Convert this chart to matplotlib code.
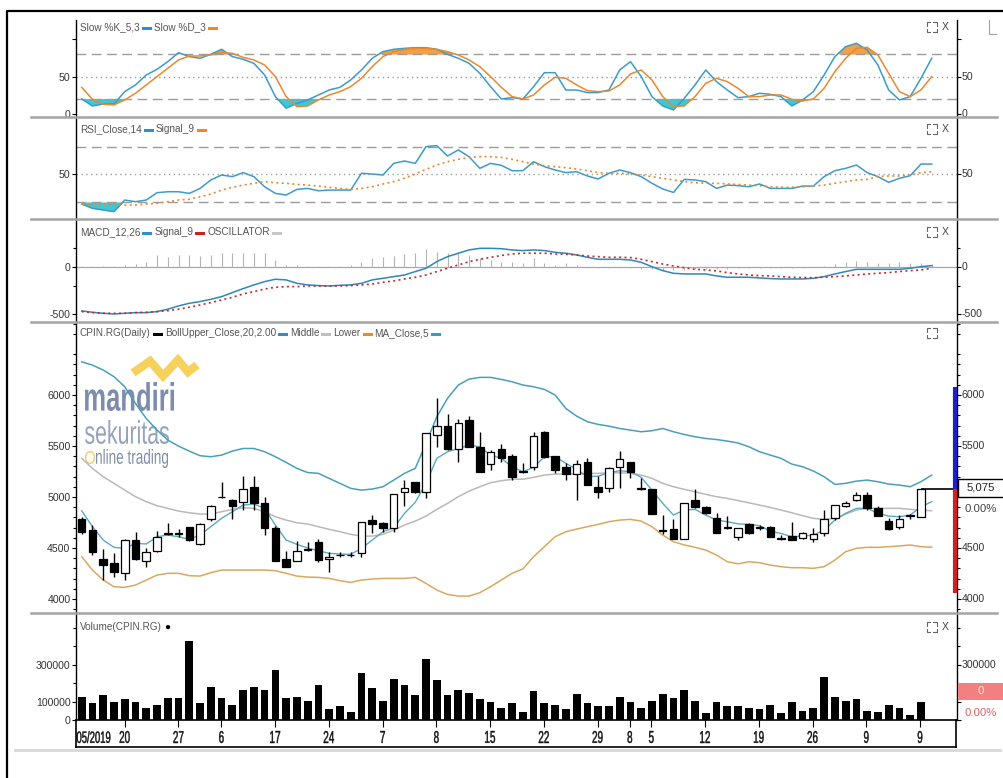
import numpy as np
import matplotlib.pyplot as plt
from matplotlib import font_manager
from matplotlib.textpath import TextPath
from matplotlib.patches import PathPatch, Rectangle
from matplotlib.font_manager import FontProperties
from matplotlib.transforms import Affine2D
from matplotlib.lines import Line2D

names = {f.name for f in font_manager.fontManager.ttflist}
narrow = 'Liberation Sans Narrow' if 'Liberation Sans Narrow' in names else 'Liberation Sans'
plt.rcParams['font.family'] = [narrow, 'DejaVu Sans']
small = 8 if narrow == 'Liberation Sans Narrow' else 7.2

# ---- data ----
tick_pos = [4, 9, 13, 18, 23, 28, 33, 38, 43, 48, 51, 53, 58, 63, 68, 73, 78]
tick_lab = ['20', '27', '6', '17', '24', '7', '8', '15', '22', '29', '8', '5', '12', '19', '26', '9', '9']
month_label = '05/2019'

opens = [4784, 4676, 4389, 4350, 4252, 4578, 4376, 4470, 4640, 4650, 4703, 4536, 4781, 5000, 4970, 4954, 5095, 4944, 4699, 4392,
         4376, 4485, 4562, 4389, 4428, 4434, 4448, 4774, 4742, 4699, 5052, 5144, 5052, 5607, 5695, 5470, 5754, 5493, 5323, 5470,
         5401, 5250, 5291, 5633, 5401, 5297, 5225, 5346, 5094, 5091, 5297, 5346, 5090, 5078, 4675, 4686, 4588, 4970, 4905, 4797,
         4705, 4611, 4732, 4705, 4709, 4598, 4617, 4595, 4591, 4643, 4791, 4915, 4970, 5019, 4889, 4764, 4709, 4812, 4807]
highs = [4800, 4725, 4487, 4448, 4591, 4660, 4497, 4670, 4742, 4690, 4710, 4742, 4921, 5150, 4985, 5205, 5205, 5003, 4715, 4470,
         4565, 4560, 4585, 4457, 4460, 4457, 4758, 4823, 4760, 5026, 5163, 5150, 5630, 5967, 5813, 5767, 5793, 5637, 5460, 5520,
         5420, 5330, 5640, 5650, 5401, 5330, 5360, 5380, 5205, 5297, 5450, 5346, 5183, 5078, 4823, 4784, 4944, 5075, 4915, 4840,
         4817, 4699, 4750, 4730, 4715, 4630, 4758, 4660, 4693, 4869, 4921, 4960, 5052, 5052, 4912, 4790, 4820, 4830, 5078]
lows = [4640, 4431, 4187, 4219, 4187, 4379, 4317, 4460, 4630, 4610, 4565, 4530, 4765, 4995, 4787, 4870, 4873, 4628, 4376, 4317,
        4370, 4470, 4360, 4268, 4415, 4415, 4415, 4643, 4660, 4660, 4911, 5035, 4987, 5493, 5460, 5348, 5493, 5248, 5265, 5348,
        5170, 5235, 5265, 5380, 5232, 5170, 4970, 5117, 4993, 5052, 5085, 5183, 5068, 4833, 4640, 4588, 4588, 4890, 4835, 4643,
        4690, 4582, 4635, 4680, 4605, 4580, 4578, 4585, 4562, 4620, 4775, 4905, 4960, 4870, 4817, 4675, 4690, 4780, 4807]
closes = [4653, 4464, 4333, 4262, 4578, 4395, 4457, 4611, 4645, 4640, 4578, 4732, 4908, 5005, 4915, 5075, 4938, 4693, 4376, 4317,
          4470, 4495, 4383, 4415, 4434, 4428, 4758, 4732, 4699, 5026, 5085, 5052, 5630, 5695, 5470, 5728, 5493, 5248, 5437, 5379,
          5199, 5260, 5600, 5395, 5264, 5225, 5320, 5117, 5046, 5281, 5372, 5248, 5080, 4833, 4665, 4588, 4944, 4899, 4846, 4643,
          4700, 4699, 4643, 4700, 4605, 4593, 4578, 4643, 4634, 4781, 4921, 4944, 5019, 4889, 4817, 4686, 4784, 4820, 5075]

volume_k = [127, 91, 135, 98, 113, 98, 67, 80, 120, 120, 429, 91, 180, 118, 80, 165, 180, 165, 271, 118,
            127, 105, 189, 58, 75, 45, 256, 173, 105, 225, 189, 135, 331, 218, 135, 165, 144, 113, 98, 67,
            91, 44, 156, 91, 80, 58, 142, 91, 75, 75, 127, 98, 67, 105, 142, 120, 165, 105, 36, 98,
            75, 75, 67, 58, 80, 36, 98, 51, 67, 233, 127, 105, 113, 51, 44, 80, 67, 29, 98]

boll_upper = [6326, 6293, 6245, 6180, 6081, 5917, 5770, 5656, 5558, 5499, 5450, 5405, 5395, 5411, 5450, 5476, 5476, 5444, 5395, 5339,
              5281, 5240, 5232, 5183, 5134, 5085, 5068, 5078, 5101, 5166, 5232, 5281, 5526, 5787, 5967, 6098, 6156, 6173, 6173, 6153,
              6130, 6098, 6081, 6055, 6000, 5868, 5793, 5738, 5712, 5695, 5672, 5656, 5640, 5650, 5672, 5640, 5613, 5591, 5574, 5564,
              5548, 5530, 5493, 5444, 5411, 5379, 5323, 5297, 5255, 5199, 5124, 5134, 5156, 5166, 5150, 5127, 5117, 5101, 5150, 5215]
boll_mid = [5379, 5281, 5199, 5134, 5068, 5003, 4954, 4915, 4889, 4862, 4846, 4833, 4833, 4856, 4879, 4895, 4889, 4856, 4807, 4774,
            4748, 4735, 4709, 4683, 4660, 4634, 4617, 4617, 4634, 4676, 4725, 4764, 4813, 4879, 4938, 5003, 5058, 5101, 5140, 5160,
            5173, 5175, 5193, 5215, 5225, 5225, 5225, 5232, 5232, 5238, 5238, 5232, 5215, 5183, 5134, 5101, 5075, 5052, 5026, 5003,
            4987, 4965, 4944, 4921, 4898, 4872, 4846, 4817, 4791, 4781, 4791, 4833, 4872, 4889, 4889, 4889, 4889, 4879, 4872, 4866]
boll_lower = [4415, 4284, 4186, 4121, 4114, 4137, 4186, 4235, 4252, 4252, 4229, 4225, 4258, 4284, 4284, 4284, 4284, 4284, 4278, 4252,
              4225, 4215, 4212, 4202, 4180, 4163, 4186, 4196, 4202, 4202, 4202, 4212, 4153, 4088, 4045, 4029, 4029, 4062, 4121, 4186,
              4252, 4295, 4415, 4513, 4611, 4660, 4686, 4709, 4732, 4758, 4774, 4781, 4764, 4709, 4627, 4562, 4530, 4507, 4480, 4431,
              4366, 4345, 4366, 4356, 4333, 4317, 4307, 4307, 4301, 4317, 4382, 4464, 4497, 4507, 4507, 4513, 4520, 4530, 4513, 4508]
ma5 = [4865, 4709, 4578, 4507, 4497, 4546, 4540, 4611, 4627, 4611, 4585, 4627, 4709, 4791, 4856, 4921, 4931, 4889, 4725, 4578,
       4536, 4500, 4474, 4448, 4441, 4438, 4497, 4578, 4660, 4699, 4840, 4948, 5134, 5379, 5444, 5476, 5509, 5493, 5411, 5379,
       5297, 5248, 5291, 5395, 5395, 5330, 5271, 5199, 5205, 5238, 5258, 5248, 5193, 5068, 4938, 4823, 4872, 4879, 4823, 4774,
       4758, 4737, 4732, 4719, 4666, 4643, 4611, 4617, 4627, 4676, 4774, 4840, 4889, 4889, 4840, 4813, 4807, 4823, 4905, 4954]

slow_k = [20.0, 10.6, 13.3, 13.3, 29.9, 38.9, 52.3, 59.9, 70.2, 82.3, 77.0, 74.7, 80.1, 86.8, 77.0, 73.4, 68.0, 52.3, 23.2, 7.5,
          14.2, 18.7, 25.4, 32.1, 35.7, 45.6, 59.0, 74.7, 83.7, 86.8, 88.1, 89.0, 89.0, 86.8, 80.1, 74.7, 68.0, 54.5, 36.6, 20.0,
          21.8, 20.0, 36.6, 55.4, 55.4, 32.1, 32.1, 28.6, 28.6, 32.1, 59.0, 70.2, 50.1, 23.2, 10.6, 5.3, 20.9, 38.9, 59.0, 43.3,
          32.1, 21.8, 23.2, 27.7, 26.3, 23.2, 10.6, 18.7, 29.9, 52.3, 77.0, 90.4, 94.9, 85.9, 65.7, 32.1, 18.7, 23.2, 47.8, 74.7]
slow_d = [35.7, 19.6, 12.9, 12.0, 18.7, 27.7, 38.9, 50.1, 61.3, 72.5, 77.8, 77.8, 79.2, 82.3, 81.4, 76.0, 72.5, 65.7, 50.1, 23.2,
          9.7, 10.6, 18.7, 25.4, 29.9, 36.6, 47.8, 63.5, 77.0, 83.7, 86.8, 88.1, 88.1, 86.8, 83.7, 79.2, 72.5, 63.5, 50.1, 35.7,
          23.2, 20.0, 25.4, 38.9, 49.2, 47.8, 38.9, 31.2, 29.9, 30.8, 38.9, 53.6, 59.0, 45.6, 23.2, 9.7, 10.6, 23.2, 41.1, 47.8,
          43.3, 34.4, 23.2, 23.2, 25.4, 25.4, 19.6, 17.4, 20.0, 34.4, 56.8, 74.7, 88.1, 89.5, 79.2, 54.5, 29.9, 23.2, 32.1, 50.1]

rsi = [28.5, 25.4, 24.2, 23.0, 31.4, 30.2, 31.4, 36.7, 37.4, 37.4, 36.2, 39.8, 45.9, 49.5, 48.3, 51.2, 48.3, 41.0, 36.2, 35.0,
       39.1, 39.8, 38.1, 38.6, 38.6, 38.6, 50.7, 50.2, 49.5, 57.9, 59.6, 57.9, 70.0, 70.7, 63.2, 67.6, 62.7, 54.3, 57.9, 56.5,
       52.6, 52.6, 59.1, 55.5, 53.1, 51.2, 51.9, 48.8, 46.6, 50.7, 53.1, 51.2, 48.3, 43.5, 39.4, 36.9, 46.3, 45.9, 44.7, 39.8,
       42.2, 41.8, 41.0, 43.0, 39.8, 39.8, 39.8, 41.5, 41.5, 48.3, 52.6, 54.3, 56.7, 51.2, 48.3, 44.2, 47.1, 49.0, 57.4, 57.4]
rsi_signal = [28.5, 28.3, 28.3, 27.8, 27.8, 27.8, 28.5, 29.0, 30.2, 31.4, 31.9, 33.8, 35.7, 38.6, 40.6, 42.2, 43.5, 44.7, 43.9, 43.5,
              42.7, 42.2, 41.5, 40.6, 39.8, 39.1, 39.8, 41.0, 43.0, 44.7, 47.1, 50.2, 53.6, 56.7, 59.1, 60.8, 62.2, 62.7, 62.7, 62.2,
              60.8, 59.1, 57.4, 56.2, 55.5, 54.8, 53.8, 52.6, 51.2, 50.7, 50.7, 50.2, 49.5, 48.3, 47.1, 45.9, 44.7, 43.9, 43.5, 43.5,
              43.0, 42.7, 42.2, 41.8, 41.0, 40.6, 40.6, 41.0, 41.5, 42.2, 43.5, 44.7, 45.9, 46.3, 48.3, 48.8, 48.8, 49.5, 51.2, 51.9]

macd = [-468, -482, -493, -500, -493, -486, -486, -475, -450, -415, -387, -369, -345, -317, -274, -232, -193, -158, -133, -140,
        -176, -193, -200, -204, -197, -193, -176, -140, -123, -105, -88, -52, -17, 53, 106, 142, 177, 194, 194, 190,
        177, 170, 177, 170, 152, 142, 124, 99, 78, 78, 78, 71, 46, 0, -42, -70, -77, -77, -77, -98,
        -112, -112, -112, -119, -126, -130, -130, -130, -123, -105, -77, -52, -28, -28, -28, -28, -28, -17, 0, 11]
macd_signal = [-475, -486, -493, -493, -493, -486, -482, -475, -465, -450, -429, -405, -380, -352, -324, -288, -264, -236, -218, -211,
               -211, -204, -204, -204, -204, -200, -193, -183, -165, -151, -130, -112, -88, -52, -17, 18, 53, 78, 99, 118,
               134, 142, 142, 142, 134, 131, 124, 113, 106, 99, 99, 96, 78, 53, 28, 7, -11, -28, -35, -45,
               -63, -77, -88, -95, -98, -105, -112, -116, -116, -112, -105, -98, -88, -77, -70, -63, -52, -42, -35, -17]
oscillator = [5, 5, 8, 10, 15, 30, 50, 120, 100, 120, 125, 110, 125, 140, 140, 148, 148, 140, 70, 18,
              15, 10, 8, 8, 10, 15, 50, 88, 105, 112, 134, 141, 190, 158, 141, 151, 123, 88, 70, 45,
              50, 35, 88, 35, 18, 35, 18, -10, -10, -10, -10, -15, -20, -25, -30, -35, -35, -25, -20, -25,
              -25, -18, -15, -15, -15, -15, -10, -10, -5, 10, 25, 45, 60, 50, 40, 35, 45, 35, 35, 30]

range_high, range_low = 6080, 4060   # coloured bar on the right price axis

# ---- figure ----
W, H = 1004, 778
fig = plt.figure(figsize=(W / 100, H / 100), dpi=100)


def px_rect(x0, y0, x1, y1):
    return [x0 / W, 1 - y1 / H, (x1 - x0) / W, (y1 - y0) / H]


XL = (-0.53, 81.35)
xc = np.arange(len(closes))
xl = np.arange(len(boll_upper))
TXT = '#333333'
TICK_FS = 7.6


def style(ax, ylim, major, labels, minor=(), right=None):
    ax.set_xlim(*XL)
    ax.set_ylim(*ylim)
    for s in ['top', 'bottom']:
        ax.spines[s].set_visible(False)
    for s in ['left', 'right']:
        ax.spines[s].set_linewidth(1.0)
        ax.spines[s].set_color('black')
    ax.set_xticks([])
    ax.set_yticks(major)
    ax.set_yticklabels(labels)
    ax.set_yticks(list(minor), minor=True)
    ax.tick_params(axis='y', which='both', left=True, right=True, direction='out',
                   length=3, width=0.8, labelsize=TICK_FS, labelcolor=TXT, pad=1)
    ax.tick_params(axis='y', which='minor', length=2)
    if right:
        for v, t in right:
            ax.text(1.0 + 5 / 881, v, t, transform=ax.get_yaxis_transform(), ha='left',
                    va='center', fontsize=TICK_FS, color=TXT, clip_on=False)


GRID = '#9c9c9c'

# Stochastic
ax_st = fig.add_axes(px_rect(76, 20, 957, 117))
style(ax_st, (-4.2, 126.2), [0, 50, 100], ['0', '50', ''], right=[(50, '50'), (0, '0')])
for lvl in (80, 20):
    ax_st.axhline(lvl, color=GRID, lw=1, dashes=(7, 4))
ax_st.axhline(50, color=GRID, lw=1, dashes=(1, 2.5))
k = np.array(slow_k)
d = np.array(slow_d)
for ser in (k, d):
    ax_st.fill_between(xl, ser, 20, where=ser < 20, interpolate=True, color='#3cc8d6', lw=0)
    ax_st.fill_between(xl, ser, 80, where=ser > 80, interpolate=True, color='#f2a043', lw=0)
ax_st.plot(xl, k, color='#3d9bc9', lw=1.1)
ax_st.plot(xl, d, color='#e58a32', lw=1.1)

# RSI
ax_rsi = fig.add_axes(px_rect(76, 117, 957, 219))
style(ax_rsi, (17.7, 91.4), [50], ['50'], right=[(50, '50')])
for lvl in (70, 30):
    ax_rsi.axhline(lvl, color=GRID, lw=1, dashes=(7, 4))
ax_rsi.axhline(50, color=GRID, lw=1, dashes=(1, 2.5))
r = np.array(rsi)
ax_rsi.fill_between(xl, r, 30, where=r < 30, interpolate=True, color='#3cc8d6', lw=0)
ax_rsi.plot(xl, r, color='#3d9bc9', lw=1.1)
ax_rsi.plot(xl, rsi_signal, color='#e58a32', lw=1.2, dashes=(1.2, 2))

# MACD
ax_macd = fig.add_axes(px_rect(76, 219, 957, 322))
style(ax_macd, (-585, 504), [0, -500], ['0', '-500'], minor=[200, -200],
      right=[(0, '0'), (-500, '-500')])
ax_macd.axhline(0, color='#a8a8a8', lw=0.9)
ax_macd.vlines(xl, 0, oscillator, color='#b4b4b4', lw=0.8)
ax_macd.plot(xl, macd, color='#2f86b8', lw=1.1)
ax_macd.plot(xl, macd_signal, color='#c82828', lw=1.2, dashes=(1.2, 2))

# Price
ax_px = fig.add_axes(px_rect(76, 322, 957, 613))
price_minor = [v for v in range(3900, 6800, 100) if v % 500]
style(ax_px, (3863, 6716), [4000, 4500, 5000, 5500, 6000], ['4000', '4500', '5000', '5500', '6000'],
      minor=price_minor, right=[(6000, '6000'), (5500, '5500'), (4500, '4500'), (4000, '4000')])
ax_px.plot(xl, boll_upper, color='#4a9fb8', lw=1.1, zorder=2)
ax_px.plot(xl, boll_mid, color='#b9b9b9', lw=1.1, zorder=2)
ax_px.plot(xl, boll_lower, color='#d9a85e', lw=1.1, zorder=2)
ax_px.plot(xl, ma5, color='#5aaac4', lw=1.0, zorder=2)
o = np.array(opens)
c = np.array(closes)
ax_px.vlines(xc, lows, highs, color='black', lw=1.0, zorder=3)
body_col = ['white' if cc > oo else 'black' for oo, cc in zip(o, c)]
ax_px.bar(xc, np.abs(c - o), bottom=np.minimum(o, c), width=0.7, color=body_col,
          edgecolor='black', linewidth=0.9, zorder=4)
ax_px.hlines(c[-1], xc[-1], XL[1], color='black', lw=1.2, zorder=5, clip_on=False)
xbar = (955 - 76) / 881
ax_px.plot([xbar, xbar], [range_high, c[-1]], transform=ax_px.get_yaxis_transform(),
           color='#1f1fc8', lw=3, solid_capstyle='butt', clip_on=False, zorder=6)
ax_px.plot([xbar, xbar], [c[-1], range_low], transform=ax_px.get_yaxis_transform(),
           color='#d21f1f', lw=3, solid_capstyle='butt', clip_on=False, zorder=6)


# watermark logo (text drawn as outlines fitted to the logo's box)
def logo_word(s, x0, ytop, x1, ybot, color, weight='normal', alpha=1.0):
    tp = TextPath((0, 0), s, size=100, prop=FontProperties(family=narrow, weight=weight))
    ext = tp.get_extents()
    tr = (Affine2D().translate(-ext.x0, -ext.y0)
          .scale((x1 - x0) / ext.width / W, (ybot - ytop) / ext.height / H)
          .translate(x0 / W, 1 - ybot / H) + fig.transFigure)
    ax_px.add_artist(PathPatch(tp, transform=tr, facecolor=color, edgecolor='none',
                               alpha=alpha, zorder=1, clip_on=False))


logo_word('mandiri', 85, 382, 174, 411, '#6f80a3', weight='bold', alpha=0.9)
logo_word('sekuritas', 85, 420, 169, 444, '#95a3bb')
logo_word('O', 85, 451, 95, 464, '#efd060')
logo_word('nline trading', 96, 449, 168, 468, '#7f8ea8')
wave = Line2D(np.array([133, 150, 163, 178, 188, 197]) / W,
              1 - np.array([373, 361, 376, 360, 372, 365]) / H,
              transform=fig.transFigure, color='#f5cd4a', lw=6, alpha=0.9, zorder=1,
              solid_joinstyle='miter', solid_capstyle='butt')
ax_px.add_artist(wave)

# Volume
ax_vol = fig.add_axes(px_rect(76, 613, 957, 720))
style(ax_vol, (0, 581000), [0, 100000, 300000], ['0', '100000', '300000'],
      minor=[200000, 400000, 500000], right=[(300000, '300000')])
ax_vol.bar(xc, np.array(volume_k) * 1000, width=0.72, color='black')

# Date strip
ax_dt = fig.add_axes(px_rect(76, 720, 956, 747))
ax_dt.set_xlim(*XL)
ax_dt.set_ylim(0, 1)
ax_dt.set_yticks([])
for s in ax_dt.spines.values():
    s.set_linewidth(1.2)
ax_dt.set_xticks(tick_pos)
ax_dt.tick_params(axis='x', top=True, bottom=False, direction='in', length=5, width=0.8,
                  labelbottom=False)


def strip_label(s, xd, ha='center'):
    # condensed date label: outline scaled narrower than the regular font
    tp = TextPath((0, 0), s, size=100, prop=FontProperties(family='Liberation Sans'))
    ext = tp.get_extents()
    sy = 12.0 / ext.height
    sx = sy * 0.58
    xpix = ax_dt.transData.transform((xd, 0))[0]
    x0 = xpix - ext.width * sx / 2 if ha == 'center' else xpix
    tr = Affine2D().translate(-ext.x0, -ext.y0).scale(sx, sy).translate(x0, H - 743)
    ax_dt.add_artist(PathPatch(tp, transform=tr, facecolor='#111111', edgecolor='#111111',
                               lw=0.3, clip_on=False))


for p, t in zip(tick_pos, tick_lab):
    strip_label(t, p)
strip_label(month_label, -0.45, ha='left')

# ---- panel captions ----
rend = fig.canvas.get_renderer()
CAP = '#555555'


def caption(y, parts, x=80):
    for s, col in parts:
        t = fig.text(x / W, 1 - y / H, s, color=col, fontsize=small, va='center', ha='left')
        x += t.get_window_extent(renderer=rend).width + 2


BAR = '\u25ac'
caption(27, [('Slow %K_5,3', CAP), (BAR, '#2b8fd0'), ('Slow %D_3', CAP), (BAR, '#f08a20')])
caption(129, [('RSI_Close,14', CAP), (BAR, '#2b8fd0'), ('Signal_9', CAP), (BAR, '#f08a20')])
caption(232, [('MACD_12,26', CAP), (BAR, '#2b8fd0'), ('Signal_9', CAP), (BAR, '#d02020'),
              ('OSCILLATOR', CAP), (BAR, '#c8c8c8')])
caption(333, [('CPIN.RG(Daily)', CAP), (BAR, 'black'), ('BollUpper_Close,20,2.00', CAP), (BAR, '#2b8fd0'),
              ('Middle', CAP), (BAR, '#c0c0c0'), ('Lower', CAP), (BAR, '#f08a20'),
              ('MA_Close,5', CAP), (BAR, '#2ba0d0')])
caption(627, [('Volume(CPIN.RG)', CAP), ('\u25cf', 'black')])


# expand icon (four small corners) and close mark on each panel
def expand_icon(cx, cy, s=3.5, g=1.5):
    for sx in (-1, 1):
        for sy in (-1, 1):
            xs = [cx + sx * g, cx + sx * (g + s), cx + sx * (g + s)]
            ys = [cy + sy * (g + s), cy + sy * (g + s), cy + sy * g]
            fig.add_artist(Line2D(np.array(xs) / W, 1 - np.array(ys) / H,
                                  transform=fig.transFigure, color='#666666', lw=0.8))


for y, with_x in [(27, True), (129, True), (232, True), (333, False), (627, True)]:
    expand_icon(932, y)
    if with_x:
        fig.text(945 / W, 1 - y / H, 'X', fontsize=7.5, color='#444444', ha='center', va='center')

# ---- right-side value boxes ----
fig.add_artist(Rectangle((958 / W, 1 - 497 / H), 46 / W, 18 / H, transform=fig.transFigure,
                         facecolor='white', edgecolor='black', lw=1, zorder=10))
fig.text(981 / W, 1 - 488 / H, '5,075', fontsize=8.2, color='#222222', ha='center', va='center', zorder=11)
fig.text(981 / W, 1 - 509 / H, '0.00%', fontsize=8.2, color='#444444', ha='center', va='center')
fig.add_artist(Rectangle((958 / W, 1 - 700 / H), 46 / W, 17 / H, transform=fig.transFigure,
                         facecolor='#f28080', edgecolor='none', zorder=10))
fig.text(981 / W, 1 - 691 / H, '0', fontsize=8.2, color='#ffe6e6', ha='center', va='center', zorder=11)
fig.text(981 / W, 1 - 713 / H, '0.00%', fontsize=8.2, color='#e06060', ha='center', va='center')

# ---- frame and separators ----
for y in (117, 219, 322, 613):
    fig.add_artist(Line2D([31 / W, 997 / W], [1 - y / H] * 2, transform=fig.transFigure,
                          color='#a4a4a4', lw=1.8))
fig.add_artist(Line2D([15 / W, 1000 / W], [1 - 750 / H] * 2, transform=fig.transFigure,
                      color='#d8d8d8', lw=2))
fig.add_artist(Line2D([7 / W, 7 / W, 1004 / W], [0, 1 - 11 / H, 1 - 11 / H],
                      transform=fig.transFigure, color='black', lw=1.6))
fig.add_artist(Line2D([989 / W, 989 / W, 996 / W], [1 - 20 / H, 1 - 34 / H, 1 - 34 / H],
                      transform=fig.transFigure, color='#a0a0a0', lw=0.8))

fig.savefig('out.png', dpi=100)
